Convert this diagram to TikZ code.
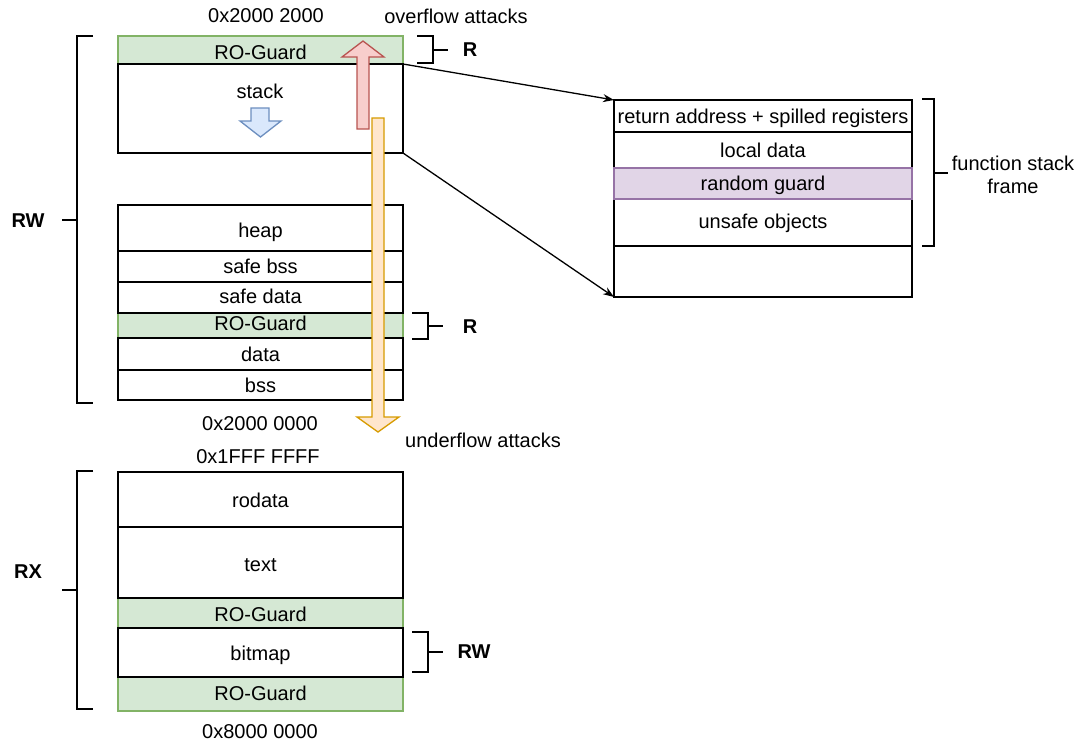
\documentclass[tikz,border=0pt]{standalone}
\usepackage{fontspec}
\setmainfont{Liberation Sans}
\usetikzlibrary{arrows.meta}
\definecolor{gfill}{HTML}{D5E8D4}
\definecolor{gline}{HTML}{82B366}
\definecolor{rfill}{HTML}{F8CECC}
\definecolor{rline}{HTML}{B85450}
\definecolor{ofill}{HTML}{FFE6CC}
\definecolor{oline}{HTML}{D79B00}
\definecolor{bfill}{HTML}{DAE8FC}
\definecolor{bline}{HTML}{6C8EBF}
\definecolor{pfill}{HTML}{E1D5E7}
\definecolor{pline}{HTML}{9673A6}
\begin{document}
\begin{tikzpicture}[x=1pt,y=-1pt,
  font=\fontsize{20}{23}\selectfont,
  box/.style={draw=black, fill=white, line width=1.3pt, inner sep=0pt, outer sep=0pt, anchor=north west, minimum width=285pt, text depth=1pt, text height=16pt},
  guard/.style={box, draw=gline, fill=gfill},
  fbox/.style={box, minimum width=298pt},
  th/.style={text height=#1},
  brk/.style={line width=2.5pt, line cap=butt, line join=miter},
  lbl/.style={inner sep=0pt, font=\fontsize{20}{23}\selectfont\bfseries},
  txt/.style={inner sep=0pt},
  conn/.style={line width=1.3pt, -{Stealth[length=11pt,width=8pt]}},
  blockarrow/.style={line width=1.3pt, line join=miter}
]
\useasboundingbox (0,0) rectangle (1081,742);

% guards first
\node[guard, minimum height=28pt, th=19.6pt] (rog1) at (118,36) {RO-Guard};
\node[guard, minimum height=25pt, th=11pt] (rog2) at (118,313) {RO-Guard};
\node[guard, minimum height=30pt, th=18.4pt] (rog3) at (118,598) {RO-Guard};
\node[guard, minimum height=34pt, th=13pt] (rog4) at (118,677) {RO-Guard};

% upper column
\node[box, minimum height=89pt] (stack) at (118,64) {};
\node[txt] (stacklbl) at (260,91) {stack};
\node[box, minimum height=46pt, th=19pt] (heap) at (118,205) {heap};
\node[box, minimum height=31pt, th=14.6pt] (sbss) at (118,251) {safe bss};
\node[box, minimum height=31pt, th=13pt] (sdata) at (118,282) {safe data};
\node[box, minimum height=32pt, th=15pt] (data) at (118,338) {data};
\node[box, minimum height=30pt, th=16.4pt] (bss) at (118,370) {bss};

% lower column
\node[box, minimum height=55pt, th=17pt] (rodata) at (118,472) {rodata};
\node[box, minimum height=71pt, th=19pt] (text) at (118,527) {text};
\node[box, minimum height=49pt, th=16pt] (bitmap) at (118,628) {bitmap};

% function frame
\node[fbox, minimum height=32pt, th=15.6pt] (ret) at (614,100) {return address + spilled registers};
\node[fbox, minimum height=36pt, th=16.4pt] (local) at (614,132) {local data};
\node[fbox, minimum height=47pt, th=12.6pt] (unsafe) at (614,199) {unsafe objects};
\node[fbox, minimum height=51pt] (empty) at (614,246) {};
\node[fbox, draw=pline, fill=pfill, minimum height=31pt, th=14pt] (rguard) at (614,168) {random guard};

% address labels
\node[txt] (a1) at (266,16) {0x2000 2000};
\node[txt] (ov) at (456,16) {overflow attacks};
\node[txt] (a2) at (260,424) {0x2000 0000};
\node[txt] (un) at (483,440) {underflow attacks};
\node[txt] (a3) at (258,457) {0x1FFF FFFF};
\node[txt] (a4) at (260,732) {0x8000 0000};

% block arrows
\draw[blockarrow, draw=oline, fill=ofill] (372,118) -- (384,118) -- (384,417) -- (399,417) -- (378,432) -- (357,417) -- (372,417) -- cycle;
\draw[blockarrow, draw=rline, fill=rfill] (357,129) -- (357,57) -- (342,57) -- (363,41) -- (384,57) -- (369,57) -- (369,129) -- cycle;
\draw[blockarrow, draw=bline, fill=bfill] (251,108) -- (269,108) -- (269,121) -- (281,121) -- (260.5,137) -- (240,121) -- (251,121) -- cycle;

% brackets
\draw[brk] (93,36) -- (77,36) -- (77,403) -- (93,403);
\draw[brk] (62,220) -- (77,220);
\node[lbl] (rw1) at (28,221) {RW};
\draw[brk] (93,471) -- (77,471) -- (77,709) -- (93,709);
\draw[brk] (62,590) -- (77,590);
\node[lbl] (rx) at (28,571.5) {RX};
\draw[brk] (417,36) -- (433,36) -- (433,63) -- (417,63);
\draw[brk] (433,50) -- (448,50);
\node[lbl] (r1) at (470,50) {R};
\draw[brk] (412,313) -- (428,313) -- (428,339) -- (412,339);
\draw[brk] (428,326) -- (443,326);
\node[lbl] (r2) at (470,327) {R};
\draw[brk] (412,632) -- (428,632) -- (428,672) -- (412,672);
\draw[brk] (428,652) -- (443,652);
\node[lbl] (rw2) at (474,652) {RW};
\draw[brk] (922,99) -- (934,99) -- (934,246) -- (922,246);
\draw[brk] (934,173) -- (948,173);
\node[txt, align=center] (fsf) at (1013,175) {function stack\\frame};

% connectors
\draw[conn] (stack.north east) -- (ret.north west);
\draw[conn] (stack.south east) -- (empty.south west);
\end{tikzpicture}
\end{document}
